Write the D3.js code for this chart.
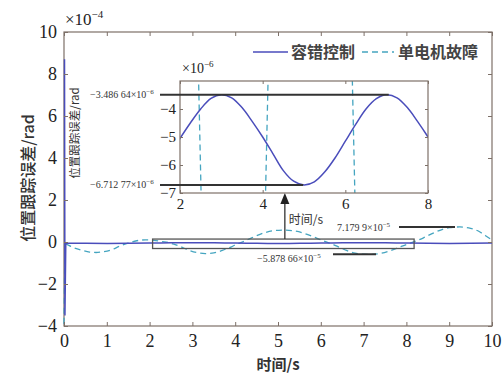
<!DOCTYPE html>
<html><head><meta charset="utf-8">
<script src="https://cdn.jsdelivr.net/npm/d3@7"></script>
<style>body{margin:0;background:#fff}svg{display:block}</style>
</head><body>
<svg id="c" width="504" height="375"></svg>
<script>
// ---------- data ----------
const xTicks = [0,1,2,3,4,5,6,7,8,9,10];
const yTicks = [-4,-2,0,2,4,6,8,10];
const insetXTicks = [2,4,6,8];
const insetYTicks = [-7,-6,-5,-4];
const seriesNames = ["容错控制", "单电机故障"];
const xLabel = "时间/s";
const yLabel = "位置跟踪误差/rad";

// 单电机故障 (units of 1e-4 rad)
const faultT = [0,0.03,0.2,0.4,0.6,0.75,0.9,1.1,1.3,1.5,1.7,1.9,2.1,2.3,2.45,2.51,2.7,2.9,3.1,3.3,3.5,3.7,3.9,4.07,4.13,4.3,4.5,4.7,4.9,5.15,5.4,5.6,5.8,6.0,6.17,6.23,6.4,6.6,6.8,7.0,7.2,7.4,7.6,7.8,8.0,8.2,8.4,8.6,8.8,9.0,9.25,9.5,9.7,9.85,10];
const faultV = [-3.9,-0.1,-0.25,-0.38,-0.48,-0.5,-0.47,-0.38,-0.2,-0.05,0.06,0.1,0.08,0.02,-0.03,-0.07,-0.2,-0.38,-0.5,-0.55,-0.52,-0.4,-0.24,-0.07,-0.03,0.12,0.3,0.45,0.54,0.57,0.52,0.42,0.27,0.1,-0.03,-0.07,-0.22,-0.4,-0.53,-0.58,-0.588,-0.54,-0.43,-0.28,-0.12,0.03,0.2,0.4,0.57,0.68,0.718,0.65,0.5,0.3,0.1];

// 容错控制 (units of 1e-6 rad)
const tolT = [0,0.01,0.03,0.5,1.0,1.5,2.0,2.25,2.5,2.75,3.0,3.25,3.5,3.75,4.0,4.25,4.5,4.75,5.0,5.25,5.5,5.75,6.0,6.25,6.5,6.75,7.0,7.25,7.5,7.75,8.0,8.5,9.0,9.5,10];
const tolV = [870,-350,-5.5,-6.2,-6.71,-6.2,-5.05,-4.5,-4.0,-3.62,-3.49,-3.6,-3.95,-4.45,-5.0,-5.6,-6.2,-6.58,-6.71,-6.6,-6.25,-5.75,-5.15,-4.55,-4.0,-3.63,-3.49,-3.6,-3.95,-4.45,-5.0,-6.2,-6.71,-6.2,-5.1];

const tolMax = -3.48664, tolMin = -6.71277;   // 1e-6
const faultMax = 7.1799, faultMin = -5.87866; // 1e-5
const zoomBox = {t0: 2.07, t1: 8.18, v0: -0.31, v1: 0.14};

// ---------- drawing ----------
const svg = d3.select("#c");
const serif = "'Liberation Serif','Times New Roman',serif";
const cjk = "'Noto Sans CJK SC','Noto Sans',sans-serif";
const frameCol = "#7d7068";
const blue = "#4a4dbb", cyan = "#45a5c0";

const x = d3.scaleLinear().domain([0,10]).range([64,492]);
const y = d3.scaleLinear().domain([-4,10]).range([326,32]);
const xi = d3.scaleLinear().domain([2,8]).range([180,428]);
const yi = d3.scaleLinear().domain([-7,-3]).range([193,81]);

const fault = faultT.map((t,i)=>[t,faultV[i]]);
const tol = tolT.map((t,i)=>[t,tolV[i]]);

function styleAxis(g, showText, fs){
  g.select(".domain").remove();
  g.selectAll(".tick line").attr("stroke",frameCol);
  g.selectAll(".tick text").attr("font-family",serif).attr("font-size",fs).attr("fill","#222");
  if(!showText) g.selectAll(".tick text").remove();
}

// main frame first
svg.append("rect").attr("x",x(0)).attr("y",y(10)).attr("width",x(10)-x(0)).attr("height",y(-4)-y(10))
  .attr("fill","none").attr("stroke",frameCol).attr("stroke-width",1.2);

// clip for main
svg.append("clipPath").attr("id","mclip").append("rect")
  .attr("x",x(0)-1).attr("y",y(10)).attr("width",x(10)-x(0)+1).attr("height",y(-4)-y(10));

const main = svg.append("g").attr("clip-path","url(#mclip)");
main.append("path").datum(fault)
  .attr("d", d3.line().x(d=>x(d[0])).y(d=>y(d[1])).curve(d3.curveMonotoneX))
  .attr("fill","none").attr("stroke",cyan).attr("stroke-width",1.3).attr("stroke-dasharray","6,4");
main.append("path").datum(tol)
  .attr("d", d3.line().x(d=>x(d[0])+0.5).y(d=>y(d[1]/100)))
  .attr("fill","none").attr("stroke",blue).attr("stroke-width",1.5);

// main axes
svg.append("g").attr("transform",`translate(0,${y(-4)})`)
  .call(d3.axisBottom(x).tickValues(xTicks).tickSize(-4).tickPadding(8).tickFormat(d3.format("d")))
  .call(g=>styleAxis(g,true,18));
svg.append("g").attr("transform",`translate(0,${y(10)})`)
  .call(d3.axisTop(x).tickValues(xTicks).tickSize(-4))
  .call(g=>styleAxis(g,false,18));
svg.append("g").attr("transform",`translate(${x(0)},0)`)
  .call(d3.axisLeft(y).tickValues(yTicks).tickSize(-4).tickPadding(7).tickFormat(d=>d<0?"\u2212"+(-d):d))
  .call(g=>styleAxis(g,true,18));
svg.append("g").attr("transform",`translate(${x(10)},0)`)
  .call(d3.axisRight(y).tickValues(yTicks).tickSize(-4))
  .call(g=>styleAxis(g,false,18));

// exponent label main
const e1 = svg.append("text").attr("x",65).attr("y",25).attr("font-family",serif).attr("font-size",17).attr("fill","#222");
e1.append("tspan").text("\u00d710");
e1.append("tspan").attr("font-size",11).attr("dy",-7).text("\u22124");

// axis titles
svg.append("text").attr("x",x(5)).attr("y",370).attr("text-anchor","middle")
  .attr("font-family",cjk).attr("font-size",15).attr("font-weight",700).attr("fill","#333").text(xLabel);
svg.append("text").attr("transform","translate(34,178) rotate(-90)").attr("text-anchor","middle")
  .attr("font-family",cjk).attr("font-size",16).attr("font-weight",500).attr("fill","#333").text(yLabel);

// legend
const lg = svg.append("g");
lg.append("line").attr("x1",253).attr("x2",288).attr("y1",52).attr("y2",52).attr("stroke",blue).attr("stroke-width",1.5);
lg.append("text").attr("x",291).attr("y",58).attr("font-family",cjk).attr("font-size",16).attr("font-weight",700).attr("fill","#444").text(seriesNames[0]);
lg.append("line").attr("x1",362).attr("x2",394).attr("y1",52).attr("y2",52).attr("stroke",cyan).attr("stroke-width",1.3).attr("stroke-dasharray","6,4");
lg.append("text").attr("x",398).attr("y",58).attr("font-family",cjk).attr("font-size",16).attr("font-weight",700).attr("fill","#444").text(seriesNames[1]);

// zoom box & arrow
svg.append("rect").attr("x",x(zoomBox.t0)).attr("y",y(zoomBox.v1))
  .attr("width",x(zoomBox.t1)-x(zoomBox.t0)).attr("height",y(zoomBox.v0)-y(zoomBox.v1))
  .attr("fill","none").attr("stroke","#555").attr("stroke-width",1.3);
const ax = x(5.16);
svg.append("line").attr("x1",ax).attr("x2",ax).attr("y1",y(zoomBox.v1)).attr("y2",yi(-7)+9).attr("stroke","#333").attr("stroke-width",1.3);
svg.append("path").attr("d",`M${ax},${yi(-7)} L${ax-4.5},${yi(-7)+11} L${ax+4.5},${yi(-7)+11} Z`).attr("fill","#222");
svg.append("text").attr("x",ax+4).attr("y",224).attr("font-family",cjk).attr("font-size",12).attr("fill","#333").text(xLabel);

// fault extreme labels
function expLabel(xx,yy,mant,exp,anchor){
  const t = svg.append("text").attr("x",xx).attr("y",yy).attr("font-family",serif).attr("font-size",10).attr("fill","#333").attr("text-anchor",anchor||"start");
  t.append("tspan").text(mant+"\u00d710");
  t.append("tspan").attr("font-size",7).attr("dy",-4).text(exp);
  return t;
}
const fmtSpace = (v,dec)=>{
  const s = Math.abs(v).toFixed(dec); const [a,b] = s.split(".");
  const grp = b.length>3 ? b.slice(0,3)+" "+b.slice(3) : b;
  return (v<0?"\u2212":"")+a+"."+grp;
};
expLabel(337,231,fmtSpace(faultMax,4),"\u22125");
svg.append("line").attr("x1",399).attr("x2",455).attr("y1",y(faultMax/10)).attr("y2",y(faultMax/10)).attr("stroke","#333").attr("stroke-width",2);
expLabel(257,262,fmtSpace(faultMin,5),"\u22125");
svg.append("line").attr("x1",333).attr("x2",376).attr("y1",y(faultMin/10)).attr("y2",y(faultMin/10)).attr("stroke","#333").attr("stroke-width",2);

// ---------- inset ----------
svg.append("rect").attr("x",xi(2)).attr("y",yi(-3)).attr("width",xi(8)-xi(2)).attr("height",yi(-7)-yi(-3)).attr("fill","#fff");
svg.append("clipPath").attr("id","iclip").append("rect")
  .attr("x",xi(2)).attr("y",yi(-3)).attr("width",xi(8)-xi(2)).attr("height",yi(-7)-yi(-3));
const ins = svg.append("g").attr("clip-path","url(#iclip)");
ins.append("path").datum(fault)
  .attr("d", d3.line().x(d=>xi(d[0])).y(d=>yi(d[1]*100)))
  .attr("fill","none").attr("stroke",cyan).attr("stroke-width",1.3).attr("stroke-dasharray","6,4");
ins.append("path").datum(tol.filter(d=>d[0]>=1.5))
  .attr("d", d3.line().x(d=>xi(d[0])).y(d=>yi(d[1])).curve(d3.curveCatmullRom))
  .attr("fill","none").attr("stroke",blue).attr("stroke-width",1.5);

svg.append("g").attr("transform",`translate(0,${yi(-7)})`)
  .call(d3.axisBottom(xi).tickValues(insetXTicks).tickSize(-3).tickPadding(5).tickFormat(d3.format("d")))
  .call(g=>styleAxis(g,true,15));
svg.append("g").attr("transform",`translate(0,${yi(-3)})`)
  .call(d3.axisTop(xi).tickValues(insetXTicks).tickSize(-3)).call(g=>styleAxis(g,false,15));
svg.append("g").attr("transform",`translate(${xi(2)},0)`)
  .call(d3.axisLeft(yi).tickValues(insetYTicks).tickSize(-3).tickPadding(4).tickFormat(d=>"\u2212"+(-d)))
  .call(g=>styleAxis(g,true,15));
svg.append("g").attr("transform",`translate(${xi(8)},0)`)
  .call(d3.axisRight(yi).tickValues(insetYTicks).tickSize(-3)).call(g=>styleAxis(g,false,15));
svg.append("rect").attr("x",xi(2)).attr("y",yi(-3)).attr("width",xi(8)-xi(2)).attr("height",yi(-7)-yi(-3))
  .attr("fill","none").attr("stroke",frameCol).attr("stroke-width",1.2);

const e2 = svg.append("text").attr("x",182).attr("y",73).attr("font-family",serif).attr("font-size",14).attr("fill","#222");
e2.append("tspan").text("\u00d710");
e2.append("tspan").attr("font-size",9).attr("dy",-6).text("\u22126");

svg.append("text").attr("transform","translate(79,133) rotate(-90)").attr("text-anchor","middle")
  .attr("font-family",cjk).attr("font-size",11.5).attr("fill","#333").text(yLabel);

// inset extreme lines and labels
svg.append("line").attr("x1",160).attr("x2",xi(7.05)).attr("y1",yi(tolMax)).attr("y2",yi(tolMax)).attr("stroke","#333").attr("stroke-width",2);
svg.append("line").attr("x1",160).attr("x2",xi(4.98)).attr("y1",yi(tolMin)).attr("y2",yi(tolMin)).attr("stroke","#333").attr("stroke-width",2);
expLabel(90,yi(tolMax)+3,fmtSpace(tolMax,5),"\u22126");
expLabel(90,yi(tolMin)+3,fmtSpace(tolMin,5),"\u22126");
</script>
</body></html>
